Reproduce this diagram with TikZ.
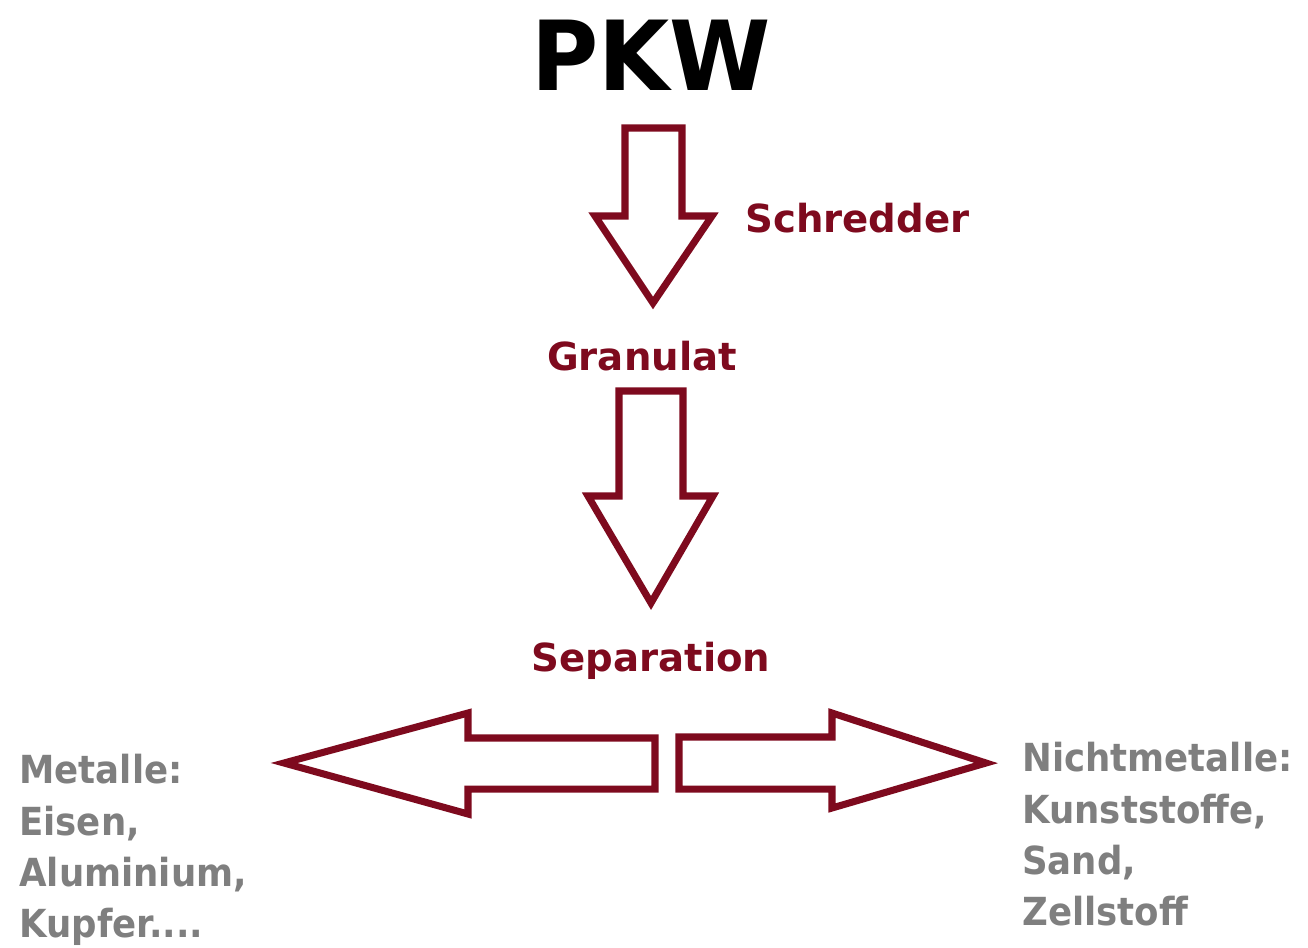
\documentclass[tikz,border=0pt]{standalone}
\usepackage{fontspec}
\setmainfont{DejaVu Sans}
\newfontfamily\narrowfont[FakeStretch=0.92]{DejaVu Sans}
\newfontfamily\titlefont[FakeStretch=0.95]{DejaVu Sans}
\definecolor{wine}{HTML}{7E0A1E}
\definecolor{stone}{HTML}{7F7F7F}
\begin{document}
\begin{tikzpicture}[x=0.02cm, y=-0.02cm,
  bigarrow/.style={draw=wine, line width=4pt, line join=miter, fill=white},
  title/.style={font=\titlefont\fontsize{55}{60}\selectfont\bfseries, text=black, inner sep=0pt, anchor=base},
  stage/.style={font=\fontsize{22}{29}\selectfont\bfseries, text=wine, inner sep=0pt, anchor=base},
  product/.style={font=\narrowfont\fontsize{22}{29.2}\selectfont\bfseries, text=stone, inner sep=0pt,
                  align=left, anchor=north west}]
\useasboundingbox (0,0) rectangle (1308,947);
% ---------------- labels
\node[title] (pkw) at (651,90) {PKW};
\node[stage, anchor=base west] (schred) at (745,232) {Schredder};
\node[stage] (gran) at (642,370) {Granulat};
\node[stage] (sep) at (651,671) {Separation};
\node[product] (met) at (19,754) {Metalle:\\Eisen,\\Aluminium,\\Kupfer....};
\node[product] (nmet) at (1022,742) {Nichtmetalle:\\Kunststoffe,\\Sand,\\Zellstoff};
% ---------------- block arrows
\draw[bigarrow] (625,128) -- (682,128) -- (682,216) -- (712,216) -- (653,303)
  -- (595,216) -- (625,216) -- cycle;
\draw[bigarrow] (619,391) -- (683,391) -- (683,496) -- (713,496) -- (651,603)
  -- (588,496) -- (619,496) -- cycle;
\draw[bigarrow] (655,738) -- (468,738) -- (468,713) -- (284,763) -- (468,814)
  -- (468,789) -- (655,789) -- cycle;
\draw[bigarrow] (679,737) -- (832,737) -- (832,713) -- (986,763) -- (832,808)
  -- (832,789) -- (679,789) -- cycle;
\end{tikzpicture}
\end{document}
